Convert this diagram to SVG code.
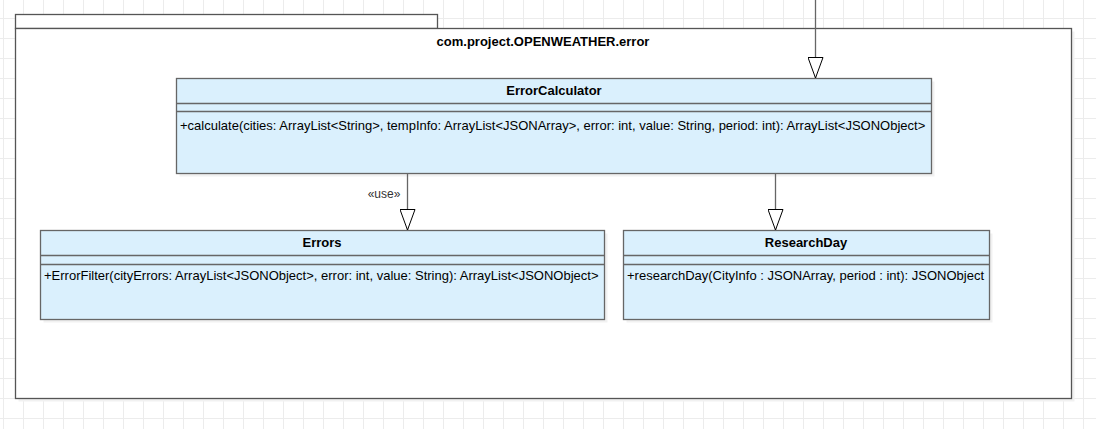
<svg xmlns="http://www.w3.org/2000/svg" width="1096" height="429" viewBox="0 0 1096 429">
  <defs>
    <pattern id="grid" x="3" y="18" width="20" height="20" patternUnits="userSpaceOnUse">
      <path d="M0.5 0 V20 M0 0.5 H20" fill="none" stroke="#ececec" stroke-width="1"/>
    </pattern>
    <marker id="hollow" viewBox="0 0 22 16" refX="21" refY="8" markerWidth="22" markerHeight="16" markerUnits="userSpaceOnUse" orient="auto">
      <path d="M0.5 0.5 L21 8 L0.5 15.5 Z" fill="#ffffff" stroke="#000000" stroke-width="1"/>
    </marker>
  </defs>
  <style>
    .shadow { fill: #f1f1f1; stroke: none; }
    .box { fill: #daf0fd; stroke: #666666; stroke-width: 1.3; }
    .pkg { fill: #ffffff; stroke: #555555; stroke-width: 1.3; }
    .sep { stroke: #666666; stroke-width: 1.3; }
    .title { font-family: "Liberation Sans", Arial, sans-serif; font-size: 13px; font-weight: bold; fill: #000000; text-anchor: middle; }
    .member { font-family: "Liberation Sans", Arial, sans-serif; font-size: 13px; fill: #000000; }
    .lbl { font-family: "Liberation Sans", Arial, sans-serif; font-size: 12px; fill: #333333; text-anchor: middle; }
    .edge { fill: none; stroke: #666666; stroke-width: 1.3; }
  </style>
  <rect width="1096" height="429" fill="#ffffff"/>
  <rect width="1096" height="429" fill="url(#grid)"/>

  <g id="package">
    <rect class="shadow" x="18.5" y="31.5" width="1056" height="370"/>
    <rect class="pkg" x="15.5" y="14.5" width="422" height="14"/>
    <rect class="pkg" x="15.5" y="28.5" width="1056" height="370"/>
    <text class="title" x="543" y="46">com.project.OPENWEATHER.error</text>
  </g>

  <g id="ErrorCalculator">
    <rect class="shadow" x="179.5" y="81.5" width="755" height="95"/>
    <rect class="box" x="176.5" y="78.5" width="755" height="95"/>
    <line class="sep" x1="176.5" y1="103.5" x2="931.5" y2="103.5"/>
    <line class="sep" x1="176.5" y1="111.5" x2="931.5" y2="111.5"/>
    <text class="title" x="554" y="95">ErrorCalculator</text>
    <text class="member" x="180" y="129.5">+calculate(cities: ArrayList&lt;String&gt;, tempInfo: ArrayList&lt;JSONArray&gt;, error: int, value: String, period: int): ArrayList&lt;JSONObject&gt;</text>
  </g>

  <g id="Errors">
    <rect class="shadow" x="43.5" y="233.5" width="564" height="89"/>
    <rect class="box" x="40.5" y="230.5" width="564" height="89"/>
    <line class="sep" x1="40.5" y1="255.5" x2="604.5" y2="255.5"/>
    <line class="sep" x1="40.5" y1="264.5" x2="604.5" y2="264.5"/>
    <text class="title" x="322" y="247">Errors</text>
    <text class="member" x="44" y="279.5">+ErrorFilter(cityErrors: ArrayList&lt;JSONObject&gt;, error: int, value: String): ArrayList&lt;JSONObject&gt;</text>
  </g>

  <g id="ResearchDay">
    <rect class="shadow" x="626.5" y="233.5" width="366" height="89"/>
    <rect class="box" x="623.5" y="230.5" width="366" height="89"/>
    <line class="sep" x1="623.5" y1="255.5" x2="989.5" y2="255.5"/>
    <line class="sep" x1="623.5" y1="264.5" x2="989.5" y2="264.5"/>
    <text class="title" x="806" y="247">ResearchDay</text>
    <text class="member" x="627" y="279.5">+researchDay(CityInfo : JSONArray, period : int): JSONObject</text>
  </g>

  <g id="connectors">
    <path class="edge" d="M815.5 0 V78" marker-end="url(#hollow)"/>
    <path class="edge" d="M407.5 174 V230" marker-end="url(#hollow)"/>
    <text class="lbl" x="384" y="198">«use»</text>
    <path class="edge" d="M775.5 174 V230" marker-end="url(#hollow)"/>
  </g>
</svg>
